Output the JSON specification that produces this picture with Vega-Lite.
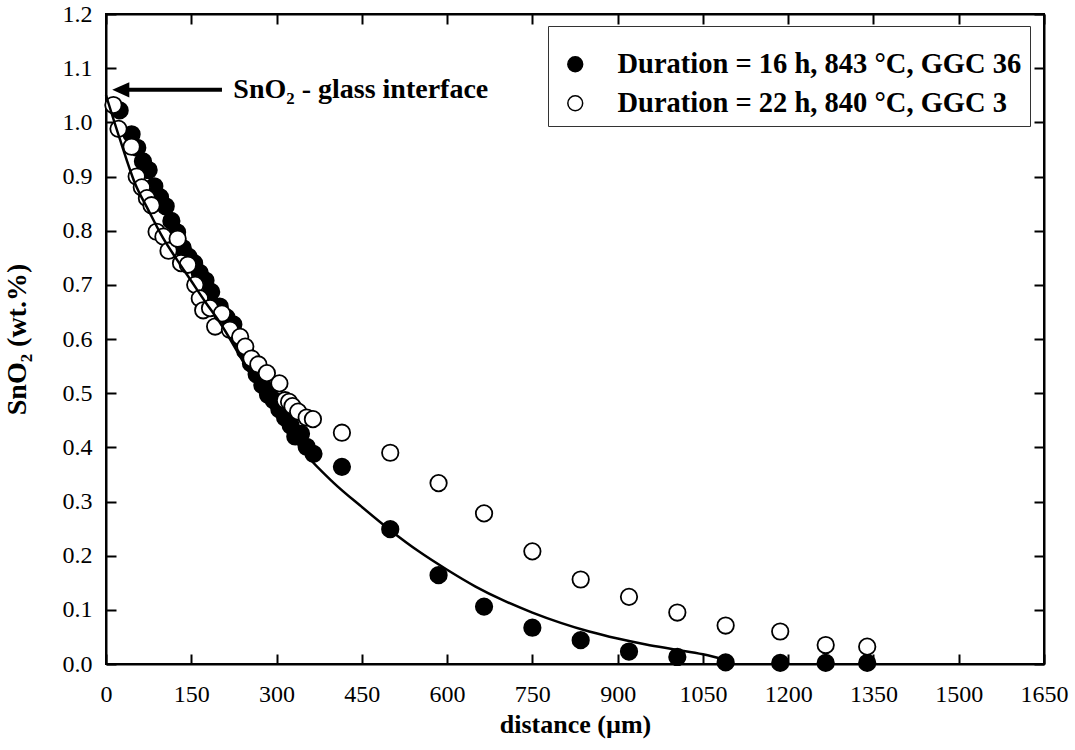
{
  "$schema": "https://vega.github.io/schema/vega-lite/v6.json",
  "width": 938,
  "height": 650,
  "autosize": {"type": "none"},
  "padding": {"left": 106, "top": 14, "right": 31, "bottom": 86},
  "background": "white",
  "config": {
    "view": {"stroke": "black", "strokeWidth": 2},
    "font": "Liberation Serif",
    "axis": {"grid": false, "domainColor": "black", "domainWidth": 2, "tickColor": "black", "tickWidth": 2, "labelColor": "black", "titleColor": "black", "labelFont": "Liberation Serif", "titleFont": "Liberation Serif"}
  },
  "datasets": {
    "points": [
      {"distance": 24, "sno2": 1.022, "series": "Duration = 16 h, 843 °C, GGC 36"},
      {"distance": 45, "sno2": 0.978, "series": "Duration = 16 h, 843 °C, GGC 36"},
      {"distance": 55, "sno2": 0.953, "series": "Duration = 16 h, 843 °C, GGC 36"},
      {"distance": 65, "sno2": 0.928, "series": "Duration = 16 h, 843 °C, GGC 36"},
      {"distance": 75, "sno2": 0.912, "series": "Duration = 16 h, 843 °C, GGC 36"},
      {"distance": 85, "sno2": 0.882, "series": "Duration = 16 h, 843 °C, GGC 36"},
      {"distance": 95, "sno2": 0.862, "series": "Duration = 16 h, 843 °C, GGC 36"},
      {"distance": 105, "sno2": 0.845, "series": "Duration = 16 h, 843 °C, GGC 36"},
      {"distance": 115, "sno2": 0.818, "series": "Duration = 16 h, 843 °C, GGC 36"},
      {"distance": 125, "sno2": 0.797, "series": "Duration = 16 h, 843 °C, GGC 36"},
      {"distance": 135, "sno2": 0.768, "series": "Duration = 16 h, 843 °C, GGC 36"},
      {"distance": 145, "sno2": 0.752, "series": "Duration = 16 h, 843 °C, GGC 36"},
      {"distance": 155, "sno2": 0.74, "series": "Duration = 16 h, 843 °C, GGC 36"},
      {"distance": 165, "sno2": 0.722, "series": "Duration = 16 h, 843 °C, GGC 36"},
      {"distance": 175, "sno2": 0.708, "series": "Duration = 16 h, 843 °C, GGC 36"},
      {"distance": 185, "sno2": 0.687, "series": "Duration = 16 h, 843 °C, GGC 36"},
      {"distance": 200, "sno2": 0.66, "series": "Duration = 16 h, 843 °C, GGC 36"},
      {"distance": 212, "sno2": 0.64, "series": "Duration = 16 h, 843 °C, GGC 36"},
      {"distance": 224, "sno2": 0.627, "series": "Duration = 16 h, 843 °C, GGC 36"},
      {"distance": 235, "sno2": 0.6, "series": "Duration = 16 h, 843 °C, GGC 36"},
      {"distance": 245, "sno2": 0.578, "series": "Duration = 16 h, 843 °C, GGC 36"},
      {"distance": 255, "sno2": 0.555, "series": "Duration = 16 h, 843 °C, GGC 36"},
      {"distance": 265, "sno2": 0.535, "series": "Duration = 16 h, 843 °C, GGC 36"},
      {"distance": 275, "sno2": 0.515, "series": "Duration = 16 h, 843 °C, GGC 36"},
      {"distance": 285, "sno2": 0.497, "series": "Duration = 16 h, 843 °C, GGC 36"},
      {"distance": 295, "sno2": 0.487, "series": "Duration = 16 h, 843 °C, GGC 36"},
      {"distance": 305, "sno2": 0.47, "series": "Duration = 16 h, 843 °C, GGC 36"},
      {"distance": 315, "sno2": 0.455, "series": "Duration = 16 h, 843 °C, GGC 36"},
      {"distance": 325, "sno2": 0.44, "series": "Duration = 16 h, 843 °C, GGC 36"},
      {"distance": 333, "sno2": 0.42, "series": "Duration = 16 h, 843 °C, GGC 36"},
      {"distance": 343, "sno2": 0.425, "series": "Duration = 16 h, 843 °C, GGC 36"},
      {"distance": 353, "sno2": 0.401, "series": "Duration = 16 h, 843 °C, GGC 36"},
      {"distance": 365, "sno2": 0.388, "series": "Duration = 16 h, 843 °C, GGC 36"},
      {"distance": 415, "sno2": 0.364, "series": "Duration = 16 h, 843 °C, GGC 36"},
      {"distance": 500, "sno2": 0.249, "series": "Duration = 16 h, 843 °C, GGC 36"},
      {"distance": 585, "sno2": 0.164, "series": "Duration = 16 h, 843 °C, GGC 36"},
      {"distance": 665, "sno2": 0.106, "series": "Duration = 16 h, 843 °C, GGC 36"},
      {"distance": 750, "sno2": 0.067, "series": "Duration = 16 h, 843 °C, GGC 36"},
      {"distance": 835, "sno2": 0.044, "series": "Duration = 16 h, 843 °C, GGC 36"},
      {"distance": 920, "sno2": 0.023, "series": "Duration = 16 h, 843 °C, GGC 36"},
      {"distance": 1005, "sno2": 0.013, "series": "Duration = 16 h, 843 °C, GGC 36"},
      {"distance": 1090, "sno2": 0.003, "series": "Duration = 16 h, 843 °C, GGC 36"},
      {"distance": 1186, "sno2": 0.002, "series": "Duration = 16 h, 843 °C, GGC 36"},
      {"distance": 1266, "sno2": 0.002, "series": "Duration = 16 h, 843 °C, GGC 36"},
      {"distance": 1339, "sno2": 0.002, "series": "Duration = 16 h, 843 °C, GGC 36"},
      {"distance": 13, "sno2": 1.032, "series": "Duration = 22 h, 840 °C, GGC 3"},
      {"distance": 22, "sno2": 0.988, "series": "Duration = 22 h, 840 °C, GGC 3"},
      {"distance": 45, "sno2": 0.955, "series": "Duration = 22 h, 840 °C, GGC 3"},
      {"distance": 54, "sno2": 0.9, "series": "Duration = 22 h, 840 °C, GGC 3"},
      {"distance": 63, "sno2": 0.88, "series": "Duration = 22 h, 840 °C, GGC 3"},
      {"distance": 72, "sno2": 0.86, "series": "Duration = 22 h, 840 °C, GGC 3"},
      {"distance": 80, "sno2": 0.847, "series": "Duration = 22 h, 840 °C, GGC 3"},
      {"distance": 89, "sno2": 0.798, "series": "Duration = 22 h, 840 °C, GGC 3"},
      {"distance": 101, "sno2": 0.789, "series": "Duration = 22 h, 840 °C, GGC 3"},
      {"distance": 110, "sno2": 0.763, "series": "Duration = 22 h, 840 °C, GGC 3"},
      {"distance": 126, "sno2": 0.785, "series": "Duration = 22 h, 840 °C, GGC 3"},
      {"distance": 132, "sno2": 0.74, "series": "Duration = 22 h, 840 °C, GGC 3"},
      {"distance": 144, "sno2": 0.737, "series": "Duration = 22 h, 840 °C, GGC 3"},
      {"distance": 157, "sno2": 0.7, "series": "Duration = 22 h, 840 °C, GGC 3"},
      {"distance": 165, "sno2": 0.675, "series": "Duration = 22 h, 840 °C, GGC 3"},
      {"distance": 171, "sno2": 0.653, "series": "Duration = 22 h, 840 °C, GGC 3"},
      {"distance": 183, "sno2": 0.657, "series": "Duration = 22 h, 840 °C, GGC 3"},
      {"distance": 192, "sno2": 0.623, "series": "Duration = 22 h, 840 °C, GGC 3"},
      {"distance": 204, "sno2": 0.647, "series": "Duration = 22 h, 840 °C, GGC 3"},
      {"distance": 218, "sno2": 0.617, "series": "Duration = 22 h, 840 °C, GGC 3"},
      {"distance": 236, "sno2": 0.604, "series": "Duration = 22 h, 840 °C, GGC 3"},
      {"distance": 245, "sno2": 0.586, "series": "Duration = 22 h, 840 °C, GGC 3"},
      {"distance": 256, "sno2": 0.564, "series": "Duration = 22 h, 840 °C, GGC 3"},
      {"distance": 268, "sno2": 0.553, "series": "Duration = 22 h, 840 °C, GGC 3"},
      {"distance": 283, "sno2": 0.537, "series": "Duration = 22 h, 840 °C, GGC 3"},
      {"distance": 305, "sno2": 0.518, "series": "Duration = 22 h, 840 °C, GGC 3"},
      {"distance": 315, "sno2": 0.487, "series": "Duration = 22 h, 840 °C, GGC 3"},
      {"distance": 322, "sno2": 0.484, "series": "Duration = 22 h, 840 °C, GGC 3"},
      {"distance": 328, "sno2": 0.476, "series": "Duration = 22 h, 840 °C, GGC 3"},
      {"distance": 338, "sno2": 0.466, "series": "Duration = 22 h, 840 °C, GGC 3"},
      {"distance": 353, "sno2": 0.455, "series": "Duration = 22 h, 840 °C, GGC 3"},
      {"distance": 364, "sno2": 0.452, "series": "Duration = 22 h, 840 °C, GGC 3"},
      {"distance": 415, "sno2": 0.427, "series": "Duration = 22 h, 840 °C, GGC 3"},
      {"distance": 500, "sno2": 0.39, "series": "Duration = 22 h, 840 °C, GGC 3"},
      {"distance": 585, "sno2": 0.334, "series": "Duration = 22 h, 840 °C, GGC 3"},
      {"distance": 665, "sno2": 0.278, "series": "Duration = 22 h, 840 °C, GGC 3"},
      {"distance": 750, "sno2": 0.208, "series": "Duration = 22 h, 840 °C, GGC 3"},
      {"distance": 835, "sno2": 0.156, "series": "Duration = 22 h, 840 °C, GGC 3"},
      {"distance": 920, "sno2": 0.124, "series": "Duration = 22 h, 840 °C, GGC 3"},
      {"distance": 1005, "sno2": 0.095, "series": "Duration = 22 h, 840 °C, GGC 3"},
      {"distance": 1090, "sno2": 0.071, "series": "Duration = 22 h, 840 °C, GGC 3"},
      {"distance": 1186, "sno2": 0.06, "series": "Duration = 22 h, 840 °C, GGC 3"},
      {"distance": 1266, "sno2": 0.035, "series": "Duration = 22 h, 840 °C, GGC 3"},
      {"distance": 1339, "sno2": 0.032, "series": "Duration = 22 h, 840 °C, GGC 3"}
    ],
    "fit": [
      {"distance": 0, "sno2": 1.05},
      {"distance": 25, "sno2": 0.967},
      {"distance": 50, "sno2": 0.89},
      {"distance": 75, "sno2": 0.837},
      {"distance": 100, "sno2": 0.787},
      {"distance": 125, "sno2": 0.746},
      {"distance": 150, "sno2": 0.707},
      {"distance": 175, "sno2": 0.668},
      {"distance": 200, "sno2": 0.631},
      {"distance": 250, "sno2": 0.543},
      {"distance": 300, "sno2": 0.464},
      {"distance": 350, "sno2": 0.389},
      {"distance": 400, "sno2": 0.335},
      {"distance": 450, "sno2": 0.29},
      {"distance": 500, "sno2": 0.247},
      {"distance": 550, "sno2": 0.208},
      {"distance": 600, "sno2": 0.174},
      {"distance": 650, "sno2": 0.143},
      {"distance": 700, "sno2": 0.117},
      {"distance": 750, "sno2": 0.095},
      {"distance": 800, "sno2": 0.076},
      {"distance": 850, "sno2": 0.06},
      {"distance": 900, "sno2": 0.047},
      {"distance": 950, "sno2": 0.036},
      {"distance": 1000, "sno2": 0.027},
      {"distance": 1050, "sno2": 0.018},
      {"distance": 1095, "sno2": 0.006}
    ],
    "arrow": [
      {"start": 26, "end": 204, "level": 1.06, "label": "SnO₂ - glass interface", "textAt": 224}
    ]
  },
  "layer": [
    {
      "data": {"name": "points"},
      "mark": {"type": "point", "shape": "circle", "filled": true, "size": 270, "stroke": "black", "strokeWidth": 1.8, "opacity": 1},
      "encoding": {
        "x": {
          "field": "distance", "type": "quantitative",
          "scale": {"domain": [0, 1650], "nice": false, "zero": false},
          "axis": {"orient": "bottom", "values": [0, 150, 300, 450, 600, 750, 900, 1050, 1200, 1350, 1500, 1650], "format": "d", "tickSize": -10, "labelFontSize": 24, "labelPadding": 28, "labelFlush": false, "labelOverlap": false, "title": "distance (µm)", "titleFontSize": 26, "titleFontWeight": "bold", "titlePadding": 5}
        },
        "y": {
          "field": "sno2", "type": "quantitative",
          "scale": {"domain": [0, 1.2], "nice": false},
          "axis": {"orient": "left", "values": [0, 0.1, 0.2, 0.3, 0.4, 0.5, 0.6, 0.7, 0.8, 0.9, 1.0, 1.1, 1.2], "format": ".1f", "tickSize": -10, "labelFontSize": 24, "labelPadding": 24, "labelFlush": false, "labelOverlap": false, "title": "SnO₂ (wt.%)", "titleFontSize": 28, "titleFontWeight": "bold", "titlePadding": 31}
        },
        "fill": {
          "field": "series", "type": "nominal",
          "scale": {"domain": ["Duration = 16 h, 843 °C, GGC 36", "Duration = 22 h, 840 °C, GGC 3"], "range": ["black", "white"]},
          "legend": {"orient": "none", "legendX": 442, "legendY": 12, "direction": "vertical", "title": " ", "titleFontSize": 8, "titlePadding": 8, "padding": 8, "strokeColor": "#333333", "fillColor": "white", "labelFont": "Liberation Serif", "labelFontWeight": "bold", "labelFontSize": 28.5, "labelColor": "black", "labelOffset": 28, "symbolOffset": 5, "symbolSize": 220, "symbolType": "circle", "symbolStrokeColor": "black", "symbolStrokeWidth": 1.5, "rowPadding": 10, "labelLimit": 600, "encode": {"legend": {"update": {"strokeWidth": {"value": 1.5}}}}}
        }
      }
    },
    {
      "data": {"name": "fit"},
      "mark": {"type": "line", "color": "black", "strokeWidth": 2.5, "interpolate": "monotone"},
      "encoding": {
        "x": {"field": "distance", "type": "quantitative", "axis": {"orient": "top", "values": [0, 150, 300, 450, 600, 750, 900, 1050, 1200, 1350, 1500, 1650], "labels": false, "tickSize": -10, "title": null}},
        "y": {"field": "sno2", "type": "quantitative", "axis": {"orient": "right", "values": [0, 0.1, 0.2, 0.3, 0.4, 0.5, 0.6, 0.7, 0.8, 0.9, 1.0, 1.1, 1.2], "labels": false, "tickSize": -10, "title": null}}
      }
    },
    {
      "data": {"name": "arrow"},
      "mark": {"type": "rule", "color": "black", "strokeWidth": 4},
      "encoding": {
        "x": {"field": "start", "type": "quantitative", "axis": null},
        "x2": {"field": "end"},
        "y": {"field": "level", "type": "quantitative", "axis": null}
      }
    },
    {
      "data": {"name": "arrow"},
      "mark": {"type": "point", "shape": "M -1 0 L 1 -0.9 L 1 0.9 Z", "filled": true, "color": "black", "size": 290, "opacity": 1},
      "encoding": {
        "x": {"field": "start", "type": "quantitative", "axis": null},
        "y": {"field": "level", "type": "quantitative", "axis": null}
      }
    },
    {
      "data": {"name": "arrow"},
      "mark": {"type": "text", "align": "left", "baseline": "middle", "font": "Liberation Serif", "fontWeight": "bold", "fontSize": 28, "color": "black"},
      "encoding": {
        "x": {"field": "textAt", "type": "quantitative", "axis": null},
        "y": {"field": "level", "type": "quantitative", "axis": null},
        "text": {"field": "label"}
      }
    }
  ],
  "resolve": {"axis": {"x": "independent", "y": "independent"}}
}
